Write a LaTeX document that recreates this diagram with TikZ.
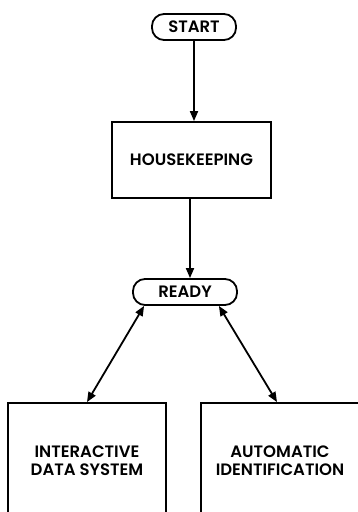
\documentclass[tikz,border=0pt]{standalone}
\usepackage{fontspec}
\setmainfont{Poppins}[BoldFont={Poppins SemiBold}]
\usetikzlibrary{arrows.meta,calc}
\begin{document}
\begin{tikzpicture}[x=1pt,y=1pt,
  ln/.style={line width=1.8pt},
  txt/.style={font=\fontsize{16.5}{18}\selectfont\bfseries, align=center},
  pill/.style={draw, ln, rounded corners=12pt, txt, inner sep=0pt},
  box/.style={draw, ln, txt, inner sep=0pt},
  arr/.style={ln, -{Triangle[length=10pt,width=8pt]}},
  darr/.style={ln, {Triangle[length=10pt,width=8pt]}-{Triangle[length=10pt,width=8pt]}}
]
\clip (0,0) rectangle (358,512);
\fill[white] (0,0) rectangle (358,512);
\node[pill, minimum width=84pt, minimum height=26pt] (start) at (194,485) {START};
\node[box, minimum width=159pt, minimum height=76pt] (house) at (191.5,352) {HOUSEKEEPING};
\node[pill, minimum width=104pt, minimum height=26pt] (ready) at (185,220) {READY};
\node[box, minimum width=158pt, minimum height=116pt] (ids) at (87,51) {INTERACTIVE\\DATA SYSTEM};
\node[box, minimum width=158pt, minimum height=116pt] (aid) at (280,51) {AUTOMATIC\\IDENTIFICATION};
\draw[arr] (start.south) -- (start.south |- house.north);
\draw[arr] ([xshift=-1.5pt]house.south) -- ([xshift=-1.5pt]house.south |- ready.north);
\draw[darr] ([xshift=12pt]ready.south west) -- (ids.north);
\draw[darr] ([xshift=-19pt]ready.south east) -- ([xshift=-3pt]aid.north);
\end{tikzpicture}
\end{document}
